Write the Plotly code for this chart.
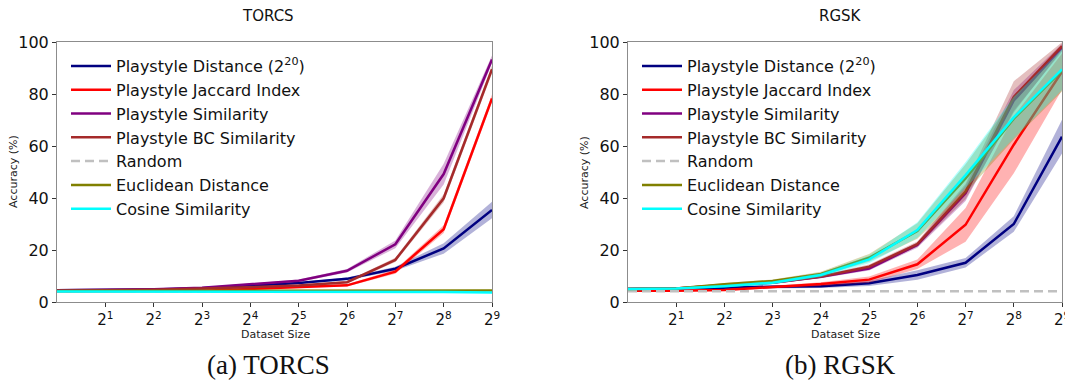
import plotly.graph_objects as go

sizes = [1, 2, 4, 8, 16, 32, 64, 128, 256, 512]
tick_vals = [2, 4, 8, 16, 32, 64, 128, 256, 512]
tick_text = ["2<sup>1</sup>", "2<sup>2</sup>", "2<sup>3</sup>", "2<sup>4</sup>", "2<sup>5</sup>",
             "2<sup>6</sup>", "2<sup>7</sup>", "2<sup>8</sup>", "2<sup>9</sup>"]

names = ["Playstyle Distance (2<sup>20</sup>)", "Playstyle Jaccard Index", "Playstyle Similarity",
         "Playstyle BC Similarity", "Random", "Euclidean Distance", "Cosine Similarity"]
colors = ["#000080", "#ff0000", "#800080", "#a52a2a", "#c0c0c0", "#808000", "#00ffff"]
band_colors = ["rgba(0,0,128,0.3)", "rgba(255,0,0,0.3)", "rgba(128,0,128,0.3)", "rgba(165,42,42,0.3)",
               "rgba(192,192,192,0.3)", "rgba(128,128,0,0.3)", "rgba(0,255,255,0.3)"]

# TORCS
torcs_distance = [4.5, 4.6, 4.8, 5.3, 6.2, 7.3, 8.9, 12.8, 20.6, 35.4]
torcs_jaccard = [4.1, 4.1, 4.1, 4.3, 5.0, 5.6, 6.4, 11.7, 28.0, 78.3]
torcs_similarity = [4.5, 4.6, 4.9, 5.5, 6.8, 8.2, 12.0, 22.2, 49.2, 93.3]
torcs_bc = [4.3, 4.4, 4.7, 5.2, 5.8, 6.3, 7.6, 16.2, 39.9, 89.5]
torcs_random = [4.17, 4.17, 4.17, 4.17, 4.17, 4.17, 4.17, 4.17, 4.17, 4.17]
torcs_euclid = [4.2, 4.2, 4.2, 4.2, 4.2, 4.2, 4.2, 4.2, 4.3, 4.4]
torcs_cosine = [4.0, 4.0, 4.0, 4.0, 4.0, 3.9, 3.9, 3.8, 3.8, 3.7]

torcs_distance_sd = [0.2, 0.2, 0.2, 0.2, 0.3, 0.3, 0.5, 0.8, 2.0, 3.2]
torcs_jaccard_sd = [0.1, 0.1, 0.1, 0.2, 0.2, 0.3, 0.4, 0.8, 1.5, 1.5]
torcs_similarity_sd = [0.2, 0.2, 0.2, 0.3, 0.3, 0.5, 0.7, 1.5, 4.0, 1.5]
torcs_bc_sd = [0.2, 0.2, 0.2, 0.2, 0.3, 0.4, 0.5, 0.8, 1.5, 1.5]
torcs_random_sd = [0, 0, 0, 0, 0, 0, 0, 0, 0, 0]
torcs_euclid_sd = [0.1, 0.1, 0.1, 0.1, 0.1, 0.1, 0.1, 0.1, 0.1, 0.1]
torcs_cosine_sd = [0.1, 0.1, 0.1, 0.1, 0.1, 0.1, 0.1, 0.1, 0.1, 0.1]

# RGSK
rgsk_distance = [5.0, 5.2, 5.5, 5.9, 6.1, 7.2, 10.4, 15.1, 30.0, 63.6]
rgsk_jaccard = [4.3, 4.3, 4.6, 5.8, 6.9, 8.6, 14.5, 29.7, 60.5, 88.6]
rgsk_similarity = [5.0, 5.2, 6.4, 7.4, 9.7, 12.9, 21.9, 41.8, 77.5, 97.8]
rgsk_bc = [5.0, 5.2, 6.5, 7.5, 9.8, 13.6, 22.3, 42.5, 78.9, 98.4]
rgsk_random = [4.17, 4.17, 4.17, 4.17, 4.17, 4.17, 4.17, 4.17, 4.17, 4.17]
rgsk_euclid = [5.0, 5.2, 6.8, 8.1, 10.8, 17.0, 27.3, 47.5, 70.5, 89.0]
rgsk_cosine = [5.0, 5.2, 6.1, 7.4, 10.4, 16.4, 27.7, 48.8, 71.0, 89.5]

rgsk_distance_sd = [0.3, 0.3, 0.4, 0.5, 0.7, 1.0, 1.8, 1.8, 3.0, 6.5]
rgsk_jaccard_sd = [0.2, 0.2, 0.3, 0.5, 0.7, 1.2, 1.8, 6.5, 11.0, 7.0]
rgsk_similarity_sd = [0.3, 0.3, 0.4, 0.5, 0.6, 0.8, 1.0, 3.0, 4.0, 1.5]
rgsk_bc_sd = [0.3, 0.3, 0.4, 0.5, 0.6, 0.8, 1.0, 3.0, 6.0, 1.5]
rgsk_random_sd = [0, 0, 0, 0, 0, 0, 0, 0, 0, 0]
rgsk_euclid_sd = [0.3, 0.3, 0.5, 0.6, 0.8, 1.5, 3.0, 5.5, 8.0, 8.0]
rgsk_cosine_sd = [0.3, 0.3, 0.5, 0.6, 0.8, 1.5, 3.0, 5.0, 8.0, 8.0]

panels = [
    ("x", "y", "legend",
     [torcs_distance, torcs_jaccard, torcs_similarity, torcs_bc, torcs_random, torcs_euclid, torcs_cosine],
     [torcs_distance_sd, torcs_jaccard_sd, torcs_similarity_sd, torcs_bc_sd, torcs_random_sd,
      torcs_euclid_sd, torcs_cosine_sd]),
    ("x2", "y2", "legend2",
     [rgsk_distance, rgsk_jaccard, rgsk_similarity, rgsk_bc, rgsk_random, rgsk_euclid, rgsk_cosine],
     [rgsk_distance_sd, rgsk_jaccard_sd, rgsk_similarity_sd, rgsk_bc_sd, rgsk_random_sd,
      rgsk_euclid_sd, rgsk_cosine_sd]),
]

fig = go.Figure()
for xa, ya, lg, series, sds in panels:
    for i, (vals, sd) in enumerate(zip(series, sds)):
        is_random = names[i] == "Random"
        if not is_random:
            lo = [v - s for v, s in zip(vals, sd)]
            hi = [v + s for v, s in zip(vals, sd)]
            fig.add_trace(go.Scatter(x=sizes, y=lo, xaxis=xa, yaxis=ya, mode="lines",
                                     line=dict(width=0), showlegend=False, hoverinfo="skip"))
            fig.add_trace(go.Scatter(x=sizes, y=hi, xaxis=xa, yaxis=ya, mode="lines",
                                     line=dict(width=0), fill="tonexty", fillcolor=band_colors[i],
                                     showlegend=False, hoverinfo="skip"))
        fig.add_trace(go.Scatter(x=sizes, y=vals, xaxis=xa, yaxis=ya, mode="lines", name=names[i],
                                 legend=lg,
                                 line=dict(color=colors[i], width=2.5,
                                           dash="9px,5px" if is_random else "solid")))

# page body has an 8px margin; the figure is sized so it fills the rest of the window
OFF = 8
W, H = 1073 - OFF, 381 - OFF


def fx(px):
    return (px - OFF) / W


def fy(py):
    return 1 - (py - OFF) / H


y_dom = [fy(302), fy(42)]
x1_dom = [fx(57), fx(492)]
x2_dom = [fx(628), fx(1062)]

axis_common = dict(showgrid=False, zeroline=False, showline=True, mirror=True, linecolor="#8c8c8c",
                   linewidth=1, ticks="outside", ticklen=4, tickcolor="#333", automargin=False)
xaxis_common = dict(axis_common, type="log", range=[0, 2.70927], tickvals=tick_vals, ticktext=tick_text,
                    ticklabeloverflow="allow",
                    tickfont=dict(family="DejaVu Sans", size=15, color="#111"))
yaxis_common = dict(axis_common, range=[0, 100], tickvals=[0, 20, 40, 60, 80, 100],
                    tickfont=dict(family="DejaVu Sans", size=16, color="#111"))

legend_common = dict(bgcolor="rgba(0,0,0,0)", borderwidth=0, xanchor="left", yanchor="top",
                     font=dict(family="DejaVu Sans", size=16, color="#111"), itemwidth=40,
                     tracegroupgap=0, traceorder="normal")

small = dict(family="DejaVu Sans", size=11, color="#222")
title_font = dict(family="DejaVu Sans", size=15, color="#111")
cap_font = dict(family="Liberation Serif", size=27, color="#111")


def ann(text, px, py, font, angle=0):
    return dict(text=text, x=fx(px), y=fy(py), xref="paper", yref="paper", showarrow=False,
                xanchor="center", yanchor="middle", font=font, textangle=angle)


fig.update_layout(
    width=W, height=H, margin=dict(l=0, r=0, t=0, b=0, autoexpand=False),
    paper_bgcolor="white", plot_bgcolor="white",
    xaxis=dict(xaxis_common, domain=x1_dom, anchor="y"),
    yaxis=dict(yaxis_common, domain=y_dom, anchor="x"),
    xaxis2=dict(xaxis_common, domain=x2_dom, anchor="y2"),
    yaxis2=dict(yaxis_common, domain=y_dom, anchor="x2"),
    legend=dict(legend_common, x=fx(66), y=fy(49)),
    legend2=dict(legend_common, x=fx(637), y=fy(49)),
    annotations=[
        ann("TORCS", 268, 16, title_font),
        ann("RGSK", 840, 16, title_font),
        ann("Dataset Size", 275, 334, small),
        ann("Dataset Size", 845, 334, small),
        ann("Accuracy (%)", 13, 172, small, -90),
        ann("Accuracy (%)", 584, 172, small, -90),
        ann("(a) TORCS", 268, 365, cap_font),
        ann("(b) RGSK", 840, 365, cap_font),
    ],
)

fig.write_html("out.html")
